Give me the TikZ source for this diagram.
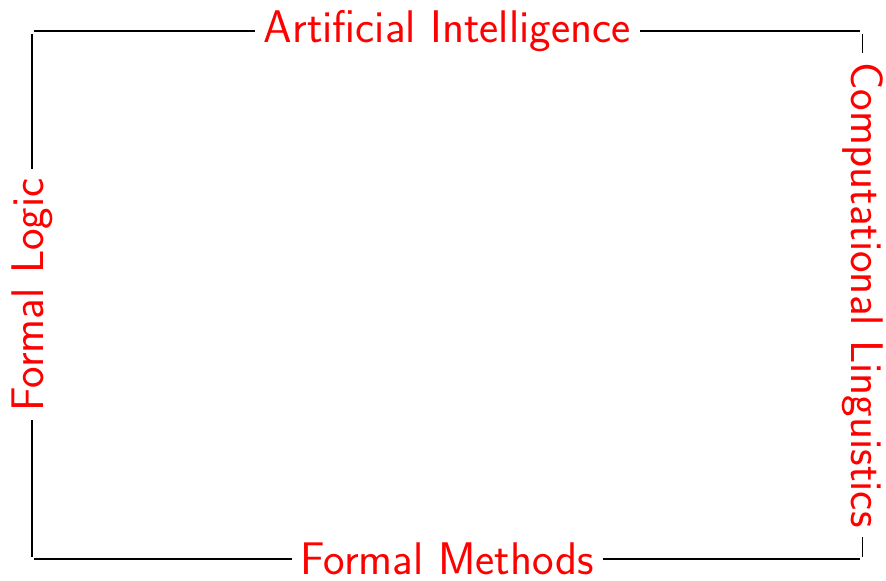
\documentclass[tikz,border=0pt]{standalone}
\usepackage{tikz}

\begin{document}
\begin{tikzpicture}
\begin{scope}
	\tikzstyle{every node}=[text=red, font=\fontsize{18.8}{23}\selectfont\sffamily, inner sep=3.5pt]
	\tikzstyle{side}=[line width=0.8pt, shorten <=1pt]
	\useasboundingbox (0,0) rectangle (12.8,8.38);
	\coordinate (tl) at (0.46,7.93);
	\coordinate (tr) at (12.46,7.93);
	\coordinate (bl) at (0.46,0.30);
	\coordinate (br) at (12.46,0.30);
	\node (ai) at (6.46,7.93) {Artificial Intelligence};
	\node (fm) at (6.46,0.30) {Formal Methods};
	\node[rotate=90] (fl) at (0.46,4.12) {Formal Logic};
	\node[rotate=-90] (cl) at (12.46,4.12) {Computational Linguistics};
	
	
	\draw [side] (tl) -- (ai);
	\draw [side] (tr) -- (ai);
	\draw [side] (bl) -- (fm);
	\draw [side] (br) -- (fm);
	\draw [side] (tl) -- (fl);
	\draw [side] (bl) -- (fl);
	\draw [side] (tr) -- (cl);
	\draw [side] (br) -- (cl);
	\end{scope}
\end{tikzpicture}
\end{document}
